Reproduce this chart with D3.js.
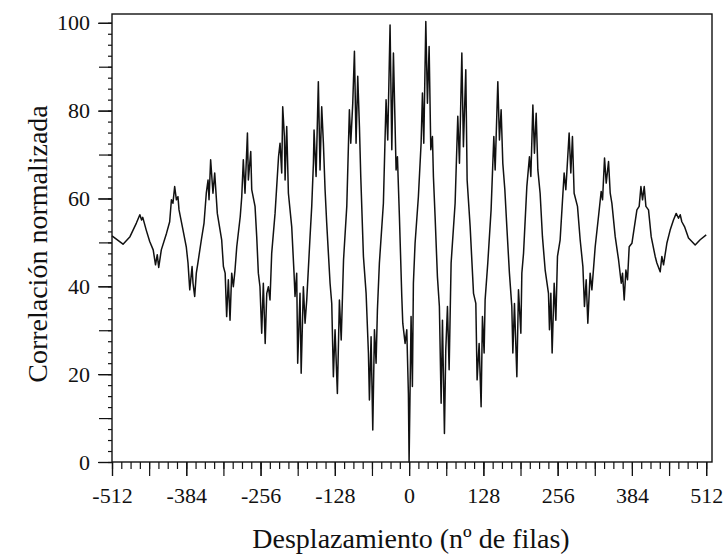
<!DOCTYPE html>
<html>
<head>
<meta charset="utf-8">
<script src="https://cdn.jsdelivr.net/npm/d3@7"></script>
<style>
  body { margin: 0; background: #fff; }
  text { font-family: "Liberation Serif", "Times New Roman", serif; fill: #111; }
</style>
</head>
<body>
<div id="quadros"></div>
<script>
var width = 724;
var height = 555;
var svg;

// desplazamiento (filas) y correlacion
var shift = [
  -512, -493, -481, -470, -464, -461, -459, -453, -447, -441, -437, -434, -431.5, -427, -418, -412.6,
  -409.6, -407, -404, -401, -398.3, -396.5, -389.6, -384, -381, -378, -374, -372.4, -369.5, -366.7, -364,
  -358, -353.4, -349.5, -346.5, -344.8, -342, -338, -335, -330.5, -323, -320, -317, -314.4, -311.5, -308.6,
  -305.7, -302.9, -300, -297, -291, -288.4, -285.7, -282.8, -278.6, -277, -272.9, -271.2, -265.5, -262.6,
  -259.8, -257, -254, -251.2, -248, -245.3, -242.5, -239.7, -236.8, -231, -225, -222.4, -219.5, -217.8,
  -214.9, -213.7, -210.9, -208, -202.3, -198.3, -196.6, -193.7, -192, -188, -186, -182.2, -179.3, -176.4,
  -170.7, -167.8, -164.9, -163.8, -160.3, -156.4, -153.5, -150.6, -147.7, -144.8, -142, -136.2, -133.3,
  -130.5, -127.6, -123.6, -120.1, -117, -113, -107.4, -102.9, -100.5, -97.1, -94.2, -91.4, -88.5, -85.6,
  -83.3, -78.7, -74.1, -70.1, -68.4, -65.5, -62.6, -59.7, -56.9, -54.6, -51.2, -44.3, -39.7, -36.8, -32.8,
  -29.8, -27, -22.4, -20.1, -16.7, -12.6, -10.9, -6.9, -4, -1.2, 0,
  3.4, 5.7, 7.4, 10.3, 16, 20.7, 23, 25.3, 28.8, 31.6, 34.5, 37.4, 40.2, 41.9, 44.8, 48.8, 52.2, 55.2,
  57.5, 60.9, 63.2, 66.1, 69, 72.4, 79.3, 83.9, 86.8, 90.9, 93.6, 97.7, 100, 105.2, 111, 115, 117.2, 120.7,
  124.1, 126.4, 129.3, 131, 135.6, 141.3, 146, 148.3, 152.9, 155.7, 158.6, 161.5, 165, 168.4, 172.9, 177,
  178.8, 181.6, 185.7, 188.5, 192.6, 194.3, 197.2, 202.9, 207.4, 209.8, 213.3, 216, 219, 221.9, 225.8,
  229.8, 234.5, 240.2, 241.9, 244.3, 246.5, 250, 252.9, 255.7, 260.3, 267.2, 270.1, 275.8, 278.7, 281.5,
  284.4, 290.2, 294.8, 299.5, 302.2, 305.2, 308, 312, 315, 320.7, 326.4, 331, 333.4, 336.8, 339.7, 343.7,
  346.6, 349.5, 355.2, 361, 365.6, 367.8, 370.7, 373.6, 376.4, 379.3, 384, 392.6, 396.5, 399.5, 402.3,
  405.2, 408.1, 412.6, 417.2, 424.1, 427, 432.7, 435.6, 438.5, 444.2, 449.9, 455.6, 460.3, 464.3, 467.2,
  470, 474.6, 481.5, 493, 501.6, 512
];
var corr = [
  51.5, 49.6, 51.3, 54.4, 56.3, 55.1, 55.7, 52.8, 50.2, 48.3, 44.9, 47.2, 44.3, 48.3, 52.1, 54.7,
  59.7, 58.9, 62.7, 59.7, 60.4, 57.4, 52.8, 49, 45.3, 39.2, 44.5, 40.7, 37.7, 43, 45.3,
  50.6, 54.4, 61.2, 64.2, 59.7, 68.8, 61.2, 65.8, 56.6, 50.6, 44.5, 43, 33.1, 41.5, 32.3,
  43, 39.9, 43.7, 49, 55.9, 60.4, 68.8, 61.2, 74.9, 64.2, 70.7, 62, 58.2, 51.3,
  43, 39.9, 29.3, 40.7, 27, 38.4, 39.9, 36.9, 47.5, 56.6, 69.5, 72.6, 65.8, 80.9,
  74.1, 64.2, 76.4, 61.2, 53.6, 43, 37.7, 43, 22.5, 38.4, 20.2, 39.9, 31.6, 36.9,
  51.3, 58.2, 68, 75.6, 65, 86.6, 66.5, 80.9, 72.6, 62, 54.4, 40.7, 36.1,
  19.4, 30.1, 15.6, 36.9, 27.8, 46, 58.2, 80.2, 72.6, 81.7, 93.5, 72.6, 87.8, 76.4,
  65, 46.8, 38.4, 24.8, 14.1, 28.5, 7.3, 30.1, 22.5, 34.6, 45.3, 58.9, 82.5, 73.3, 99.5,
  71.1, 93.1, 66.5, 69.5, 55.9, 37.7, 31.6, 27, 30.1, 15.6, 0,
  33.1, 17.2, 40.7, 49.8, 60.4, 72.6, 84, 72.6, 100.3, 81.7, 94.6, 71.1, 74.1, 65, 55.9, 42.2, 35.4, 13.4,
  32.3, 6.5, 25.5, 35.4, 21, 45.3, 58.9, 78.7, 68, 93.1, 71.8, 89.3, 64.2, 53.6, 38.4, 36.1, 18.7, 27,
  12.6, 33.1, 24.8, 36.9, 45.3, 57.4, 74.1, 66.5, 86.6, 73.3, 80.2, 68, 62, 53.6, 43, 35.4,
  24.8, 36.1, 19.4, 39.2, 29.3, 43, 47.5, 62.7, 69.5, 65, 81.3, 70.3, 79.4, 66.5, 61.2,
  51.3, 43.7, 38.4, 30.1, 38.4, 24.8, 40.7, 32.3, 46.8, 50.6, 65.8, 62, 74.9, 65.8, 74.1,
  61.2, 58.2, 50.6, 44.5, 35.4, 41.5, 31.6, 43, 39.2, 49, 55.9, 61.6, 59.7, 69.2, 63.5, 68.4,
  61.2, 58.9, 51.3, 46, 40.7, 43, 36.9, 43.7, 41.5, 49, 49.8, 57.4, 58.2, 62.7, 59.7,
  62.7, 58.2, 57.4, 51.3, 46.8, 45.3, 43.3, 46.8, 44.9, 49.8, 52.8, 55.1, 56.6, 55.5, 56.3,
  54.7, 53.6, 51, 49.4, 50.6, 51.7
];

var xTickLabels = [-512, -384, -256, -128, 0, 128, 256, 384, 512];
var yTickLabels = [0, 20, 40, 60, 80, 100];
var xTitle = "Desplazamiento (nº de filas)";
var yTitle = "Correlación normalizada";

var padL = 112, padR = 712, padT = 14, padB = 462;

function init() {
  svg = d3.select(document.getElementById('quadros')).append('svg')
       .attr('width', width)
       .attr('height', height);
}

function tickAxis(axis, values, size, g) {
  g.call(axis.tickValues(values).tickSize(size).tickFormat(""));
  g.select('.domain').remove();
  g.selectAll('line').attr('stroke', '#111').attr('stroke-width', 1.2);
}

function plain(d) { return String(d); }

function createGraph() {
  var x = d3.scaleLinear().domain([-512, 522]).range([padL, padR]);
  var y = d3.scaleLinear().domain([0, 102]).range([padB, padT]);

  // minor / medium ticks
  tickAxis(d3.axisBottom(x), d3.range(-512, 513, 16), 7,
           svg.append('g').attr('transform', 'translate(0,' + padB + ')'));
  tickAxis(d3.axisBottom(x), d3.range(-512, 513, 64), 14,
           svg.append('g').attr('transform', 'translate(0,' + padB + ')'));
  tickAxis(d3.axisLeft(y), d3.range(0, 101, 2.5), 4,
           svg.append('g').attr('transform', 'translate(' + padL + ',0)'));
  tickAxis(d3.axisLeft(y), d3.range(0, 101, 10), 13,
           svg.append('g').attr('transform', 'translate(' + padL + ',0)'));

  // labels
  var gx = svg.append('g').attr('transform', 'translate(0,' + padB + ')')
    .call(d3.axisBottom(x).tickValues(xTickLabels).tickFormat(plain).tickSize(14).tickPadding(11));
  gx.select('.domain').remove();
  gx.selectAll('line').attr('stroke', '#111').attr('stroke-width', 1.2);
  gx.selectAll('text').style('font-size', '22px').style('font-family', '"Liberation Serif", serif').attr('fill', '#111');

  var gy = svg.append('g').attr('transform', 'translate(' + padL + ',0)')
    .call(d3.axisLeft(y).tickValues(yTickLabels).tickFormat(plain).tickSize(14).tickPadding(8));
  gy.select('.domain').remove();
  gy.selectAll('line').attr('stroke', '#111').attr('stroke-width', 1.2);
  gy.selectAll('text').style('font-size', '22px').style('font-family', '"Liberation Serif", serif').attr('fill', '#111');

  // frame
  svg.append('rect')
    .attr('x', padL).attr('y', padT)
    .attr('width', padR - padL).attr('height', padB - padT)
    .attr('fill', 'none').attr('stroke', '#111').attr('stroke-width', 1.4);

  // curve
  var pts = shift.map(function (s, i) { return [s, corr[i]]; });
  svg.append('path')
    .datum(pts)
    .attr('d', d3.line().x(function (d) { return x(d[0]); }).y(function (d) { return y(d[1]); }))
    .attr('fill', 'none')
    .attr('stroke', '#111')
    .attr('stroke-width', 1.5)
    .attr('stroke-linejoin', 'round');

  // titles
  svg.append('text')
    .attr('x', 411).attr('y', 548)
    .style('font-size', '28px')
    .style('text-anchor', 'middle')
    .text(xTitle);
  svg.append('text')
    .attr('transform', 'translate(47,244) rotate(-90)')
    .style('font-size', '28px')
    .style('text-anchor', 'middle')
    .text(yTitle);
}

init();
createGraph();
</script>
</body>
</html>
